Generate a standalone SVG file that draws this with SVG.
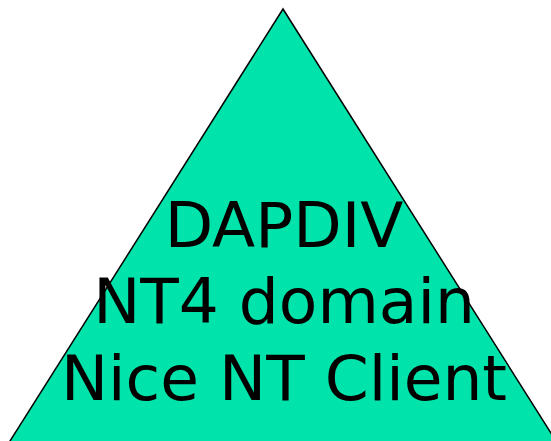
<svg xmlns="http://www.w3.org/2000/svg" width="551" height="441" viewBox="0 0 551 441">
<style>
.shape{fill:#00E3AA;stroke:#000;stroke-width:1.5}
.lbl{font-family:"DejaVu Sans",sans-serif;font-size:63px;fill:#000;text-anchor:middle}
</style>
<rect width="551" height="441" fill="#fff"/>
<g id="node-dapdiv">
<polygon class="shape" points="283,9 -2,460 568,460"/>
<text class="lbl" x="284" y="247">DAPDIV</text>
<text class="lbl" x="284" y="323">NT4 domain</text>
<text class="lbl" x="284" y="400">Nice NT Client</text>
</g>
<g id="connectors"/>
</svg>
